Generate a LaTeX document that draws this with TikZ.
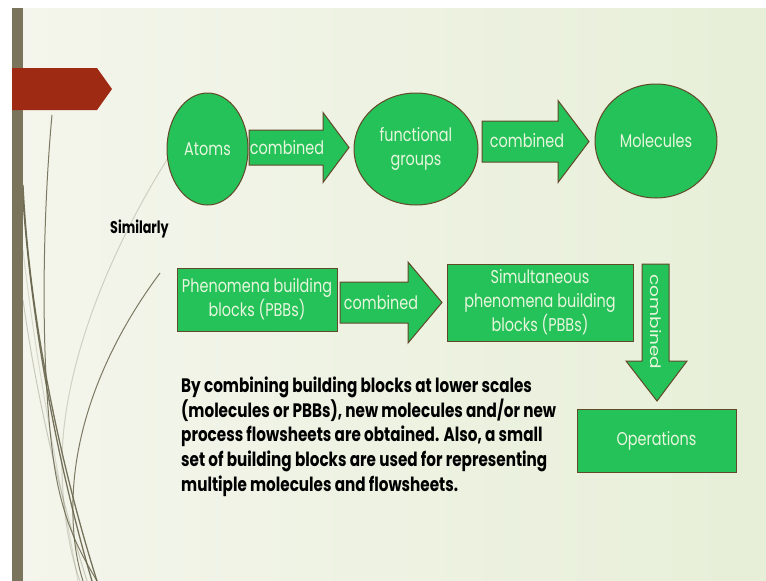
\documentclass[tikz,border=0pt]{standalone}
\usepackage{fontspec}
\setmainfont{Poppins}
\usepackage{graphicx}
\usetikzlibrary{shapes.geometric}
\definecolor{bgL}{RGB}{244,245,236}
\definecolor{bgR}{RGB}{231,239,216}
\definecolor{barc}{RGB}{122,116,92}
\definecolor{redc}{RGB}{158,42,20}
\definecolor{gfill}{RGB}{36,194,88}
\definecolor{gline}{RGB}{100,72,42}
\definecolor{gtext}{RGB}{232,246,222}
\definecolor{curvec}{RGB}{104,100,76}
\newcommand{\sqz}[1]{\scalebox{0.78}[1]{#1}}
\newcommand{\sqzv}[1]{\scalebox{1}[0.78]{#1}}
\newcommand{\ml}[1]{\sqz{\begin{tabular}{@{}c@{}}#1\end{tabular}}}
\tikzset{
  blk/.style={fill=gfill, draw=gline, line width=1pt, line join=miter},
  bub/.style={ellipse, blk, inner sep=0pt, text=gtext, font=\fontsize{18.5}{24}\selectfont},
  boxn/.style={rectangle, blk, inner sep=0pt, text=gtext, font=\fontsize{18.5}{24}\selectfont},
  lbl/.style={inner sep=0pt, text=gtext, font=\fontsize{18.5}{24}\selectfont},
  para/.style={inner sep=0pt, anchor=base west, text=black, font=\fontsize{19.5}{25}\selectfont\bfseries},
  curve/.style={draw=curvec, line width=1pt}
}
\newcommand{\harrow}[6]{%
  \draw[blk] (#1,#4-#5) -- (#2,#4-#5) -- (#2,#4-#6) -- (#3,#4) -- (#2,#4+#6) -- (#2,#4+#5) -- (#1,#4+#5) -- cycle;}
\begin{document}
\begin{tikzpicture}[x=1pt,y=-1pt]
\useasboundingbox (0,0) rectangle (766,581);
\fill[white] (0,0) rectangle (766,581);
\shade[left color=bgL, right color=bgR] (12,8) rectangle (766,581);
% curves
\draw[curve, opacity=0.85] (52,115) .. controls (44,200) and (38,360) .. (55,470) .. controls (65,530) and (85,560) .. (97,581);
\draw[curve, opacity=0.9, line width=1.3pt] (23,185) .. controls (30,330) and (65,480) .. (97,581);
\draw[curve, opacity=0.9, line width=1.3pt] (23,200) .. controls (33,340) and (62,480) .. (92,581);
\draw[curve, opacity=0.25] (168,158) .. controls (110,250) and (60,370) .. (62,470) .. controls (63,520) and (72,560) .. (80,581);
\draw[curve, opacity=0.85] (160,273) .. controls (110,340) and (75,420) .. (73,500) .. controls (72,540) and (78,565) .. (83,581);
\draw[curve, opacity=0.3] (23,300) .. controls (40,420) and (65,510) .. (87,581);
\draw[curve, opacity=0.2] (23,250) .. controls (38,380) and (60,480) .. (78,581);
% left bar and red tab
\fill[barc] (12,8) rectangle (23,581);
\fill[redc] (12,68) -- (97,68) -- (112,89) -- (97,110) -- (12,110) -- cycle;
% top row
\node[bub, minimum width=81pt, minimum height=112pt] (atoms) at (207.5,149) {\sqz{Atoms}};
\node[bub, minimum width=124pt, minimum height=112pt] (fg) at (416,149) {\ml{functional\\groups}};
\node[bub, minimum width=122pt, minimum height=114pt] (mol) at (656,141) {\sqz{Molecules}};
\harrow{249}{323}{349}{147.5}{17.5}{35}
\node[lbl] (c1) at (287,148) {\sqz{combined}};
\harrow{482}{558}{589}{141.5}{20.5}{41}
\node[lbl] (c2) at (527,141) {\sqz{combined}};
% similarly
\node[inner sep=0pt, anchor=base west, font=\fontsize{17}{20}\selectfont\bfseries] (sim) at (110,233) {\scalebox{0.75}[1]{Similarly}};
% middle row
\node[boxn, minimum width=160pt, minimum height=63pt] (pbb) at (257,299.5) {\ml{Phenomena building\\blocks (PBBs)}};
\harrow{340}{408}{442}{302.5}{20.5}{40.5}
\node[lbl] (c3) at (381,303) {\sqz{combined}};
\node[boxn, minimum width=186pt, minimum height=77pt] (spbb) at (540,302.5) {\ml{Simultaneous\\phenomena building\\blocks (PBBs)}};
\draw[blk] (642,264) -- (669,264) -- (669,361) -- (687,361) -- (657,401) -- (626,361) -- (642,361) -- cycle;
\node[lbl, rotate=-90] (c4) at (655.5,322) {\sqzv{combined}};
\node[boxn, minimum width=159pt, minimum height=63pt] (ops) at (656.5,440.5) {\sqz{Operations}};
% paragraph
\node[para] (p1) at (181,392) {\scalebox{0.78}[1]{By combining building blocks at lower scales}};
\node[para] (p2) at (181,417) {\scalebox{0.78}[1]{(molecules or PBBs), new molecules and/or new}};
\node[para] (p3) at (181,441) {\scalebox{0.78}[1]{process flowsheets are obtained. Also, a small}};
\node[para] (p4) at (181,466) {\scalebox{0.78}[1]{set of building blocks are used for representing}};
\node[para] (p5) at (181,491) {\scalebox{0.78}[1]{multiple molecules and flowsheets.}};
\end{tikzpicture}
\end{document}
